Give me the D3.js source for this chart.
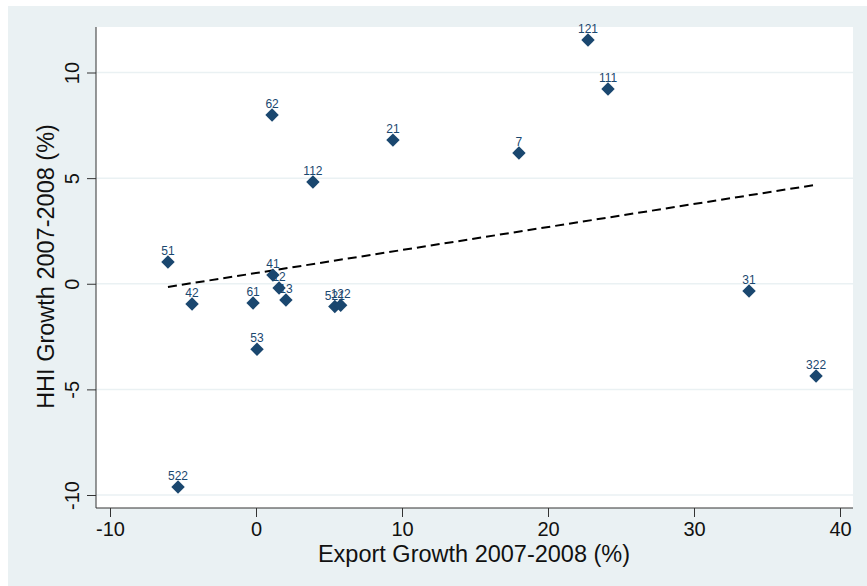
<!DOCTYPE html>
<html>
<head>
<meta charset="utf-8">
<script src="https://cdn.jsdelivr.net/npm/d3@7"></script>
<style>
  html, body { margin: 0; padding: 0; background: #ffffff; }
  svg { display: block; }
  text { font-family: "Liberation Sans", Arial, sans-serif; }
</style>
</head>
<body>
<svg id="chart" width="867" height="586"></svg>
<script>
// Product codes with export growth (x) and HHI growth (y), 2007-2008, in %
const codes = ["121", "111", "62", "21", "7", "112", "51", "41", "12", "13", "61", "521", "122", "42", "53", "31", "322", "522"];
const exportGrowth = [22.74, 24.11, 1.10, 9.38, 18.01, 3.90, -6.03, 1.16, 1.58, 2.05, -0.20, 5.40, 5.80, -4.38, 0.07, 33.77, 38.36, -5.34];
const hhiGrowth = [11.54, 9.22, 7.99, 6.80, 6.19, 4.82, 1.03, 0.41, -0.20, -0.77, -0.91, -1.08, -1.02, -0.96, -3.10, -0.34, -4.37, -9.62];

const xTicks = [-10, 0, 10, 20, 30, 40];
const yTicks = [-10, -5, 0, 5, 10];

const xTitle = "Export Growth 2007-2008 (%)";
const yTitle = "HHI Growth 2007-2008 (%)";

const W = 867, H = 586;
const svg = d3.select("#chart");

// graph region
svg.append("rect").attr("x", 8).attr("y", 6).attr("width", W - 8).attr("height", H - 6)
  .attr("fill", "#eaf1f3");

// plot region
const plot = { left: 96, right: 853, top: 27, bottom: 508 };
svg.append("rect").attr("x", plot.left).attr("y", plot.top)
  .attr("width", plot.right - plot.left).attr("height", plot.bottom - plot.top)
  .attr("fill", "#ffffff");

const x = d3.scaleLinear().domain([-10, 40]).range([110, 840]);
const y = d3.scaleLinear().domain([-10, 10]).range([495, 72.5]);

// horizontal grid lines
svg.append("g").selectAll("line").data(yTicks).join("line")
  .attr("x1", plot.left).attr("x2", plot.right)
  .attr("y1", d => y(d)).attr("y2", d => y(d))
  .attr("stroke", "#eaf1f3").attr("stroke-width", 1.5);

// axes (plain hyphen for negative numbers)
const fmt = d => String(d);
const yAxis = d3.axisLeft(y).tickValues(yTicks).tickSize(9).tickPadding(0).tickFormat(fmt);
const gy = svg.append("g").attr("transform", `translate(${plot.left},0)`).call(yAxis);
gy.select(".domain").attr("d", `M0,${plot.top}V${plot.bottom}`).attr("stroke", "#333");
gy.selectAll(".tick line").attr("stroke", "#333");
gy.selectAll(".tick text")
  .attr("x", 0).attr("dy", 0)
  .attr("transform", "translate(-24,0) rotate(-90)")
  .attr("text-anchor", "middle").attr("dominant-baseline", "central")
  .attr("font-size", 20).attr("fill", "#111");

const xAxis = d3.axisBottom(x).tickValues(xTicks).tickSize(9).tickPadding(5).tickFormat(fmt);
const gx = svg.append("g").attr("transform", `translate(0,${plot.bottom})`).call(xAxis);
gx.select(".domain").attr("d", `M${plot.left},0H${plot.right}`).attr("stroke", "#333");
gx.selectAll(".tick line").attr("stroke", "#333");
gx.selectAll(".tick text").attr("font-size", 20).attr("fill", "#111");
gx.selectAll("text").attr("font-family", null);
gy.selectAll("text").attr("font-family", null);

// axis titles
svg.append("text").attr("x", (plot.left + plot.right) / 2 - 0.5).attr("y", 562)
  .attr("text-anchor", "middle").attr("font-size", 23.5).attr("fill", "#111").text(xTitle);
svg.append("text").attr("transform", `translate(54,${(plot.top + plot.bottom) / 2 - 1}) rotate(-90)`)
  .attr("text-anchor", "middle").attr("font-size", 23.5).attr("fill", "#111").text(yTitle);

// linear fit
const pts = codes.map((c, i) => ({ code: c, x: exportGrowth[i], y: hhiGrowth[i] }));
const mx = d3.mean(pts, d => d.x), my = d3.mean(pts, d => d.y);
const slope = d3.sum(pts, d => (d.x - mx) * (d.y - my)) / d3.sum(pts, d => (d.x - mx) ** 2);
const intercept = my - slope * mx;
const [x0, x1] = d3.extent(pts, d => d.x);
svg.append("path")
  .attr("d", d3.line().x(d => x(d)).y(d => y(intercept + slope * d))([x0, x1]))
  .attr("stroke", "#000").attr("stroke-width", 2).attr("stroke-dasharray", "9,5").attr("fill", "none");

// point labels then markers
const color = "#1a476f";
svg.append("g").selectAll("text").data(pts).join("text")
  .attr("x", d => x(d.x)).attr("y", d => y(d.y) - 7)
  .attr("text-anchor", "middle").attr("font-size", 12).attr("fill", color)
  .text(d => d.code);

const diamond = d3.symbol().type(d3.symbolSquare).size(90);
svg.append("g").selectAll("path").data(pts).join("path")
  .attr("d", diamond)
  .attr("transform", d => `translate(${x(d.x)},${y(d.y)}) rotate(45)`)
  .attr("fill", color);
</script>
</body>
</html>
